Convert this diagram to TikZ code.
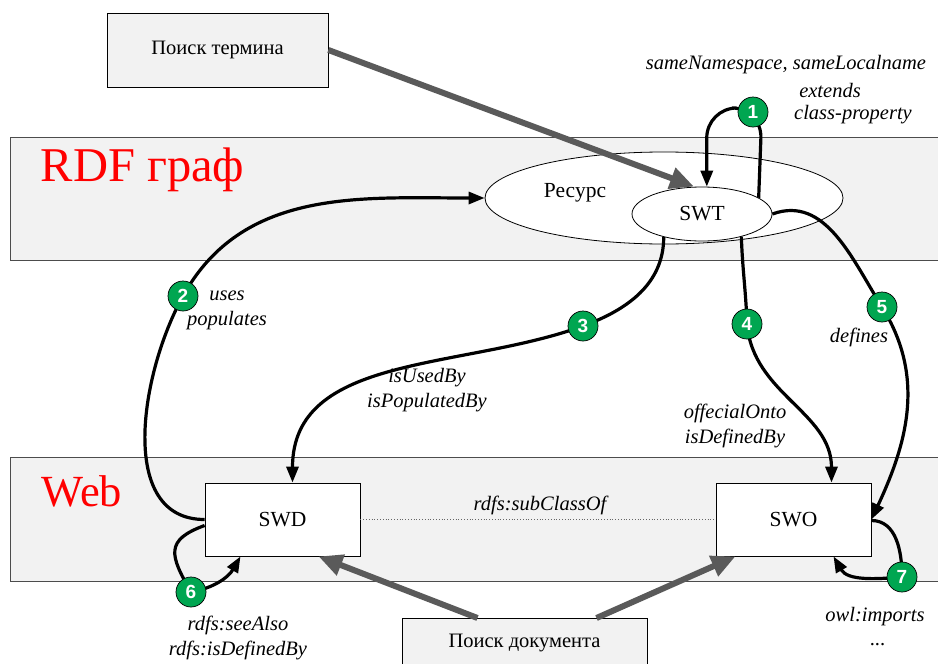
\documentclass[tikz,border=0pt]{standalone}
\usepackage{fontspec}
\setmainfont{Liberation Serif}
\newfontfamily\numfont{Liberation Sans}
\usetikzlibrary{arrows.meta,shapes.geometric}

\definecolor{bandgray}{HTML}{F2F2F2}
\definecolor{arrowgray}{HTML}{5A5A5A}
\definecolor{badge}{HTML}{00A651}

\begin{document}
\begin{tikzpicture}[x=1pt,y=-1pt,
  band/.style={draw=black!70, fill=bandgray, line width=0.9pt, rectangle,
    anchor=north west, inner sep=0pt},
  searchbox/.style={draw=black, fill=bandgray, line width=0.8pt, rectangle,
    inner sep=0pt, font=\fontsize{20.5}{22}\selectfont},
  docbox/.style={draw=black, fill=white, line width=0.8pt, rectangle,
    minimum width=155pt, minimum height=73pt, inner sep=0pt,
    font=\fontsize{21.5}{22}\selectfont},
  oval/.style={draw=black, fill=white, line width=0.8pt, ellipse, inner sep=0pt},
  bigtitle/.style={text=red, font=\fontsize{47}{50}\selectfont},
  plaintext/.style={font=\fontsize{21.5}{22}\selectfont},
  lbl/.style={font=\itshape\fontsize{20.5}{25}\selectfont, align=center},
  rel/.style={line width=3.2pt, -{Triangle[length=16pt,width=12pt]}},
  seek/.style={line width=6pt, draw=arrowgray, -{Triangle[length=24pt,width=21pt]}},
  num/.style={circle, draw=black, fill=badge, line width=0.7pt, minimum size=30pt,
    inner sep=0pt, text=white, font=\numfont\bfseries\fontsize{19}{19}\selectfont},
]
\useasboundingbox (0,0) rectangle (938,664);
\clip (0,0) rectangle (938,664);

% layers: the RDF graph and the Web
\node[band, minimum width=940pt, minimum height=123pt] (rdfband) at (10,137) {};
\node[band, minimum width=940pt, minimum height=124pt] (webband) at (10,457) {};
\node[bigtitle, font=\fontsize{48.5}{50}\selectfont] (rdftitle) at (142.5,170) {RDF граф};
\node[bigtitle, font=\fontsize{44.5}{50}\selectfont] (webtitle) at (82,491) {Web};

% search entry points
\node[searchbox, minimum width=221pt, minimum height=74pt] (termsearch) at (217.5,50) {Поиск термина};
\node[searchbox, minimum width=245pt, minimum height=70pt, anchor=north] (docsearch) at (524.5,618) {};
\node[font=\fontsize{20.5}{22}\selectfont] (doctext) at (524.5,643) {Поиск документа};

% resources
\node[oval, minimum width=358pt, minimum height=92pt] (res) at (664,198) {};
\node[plaintext] (restext) at (575,193) {Ресурс};
\node[oval, minimum width=140pt, minimum height=54pt, plaintext] (swt) at (702,214) {SWT};

% documents
\node[docbox] (swd) at (282.5,519.5) {SWD};
\node[docbox] (swo) at (793.5,519.5) {SWO};
\draw[dotted, black!60, line width=0.8pt] (swd.east) -- (swo.west);
\node[lbl] (subclass) at (540,505) {rdfs:subClassOf};

% search arrows
\draw[seek] (termsearch.east) -- ([xshift=-8pt]swt.north);
\draw[seek] ([xshift=-47pt]docsearch.north) -- ([xshift=36pt]swd.south);
\draw[seek] ([xshift=72pt]docsearch.north) -- ([xshift=-58pt]swo.south);

% badge positions
\coordinate (p1) at (753,112);
\coordinate (p2) at (183,296);
\coordinate (p3) at (583,326);
\coordinate (p4) at (747,324);
\coordinate (p5) at (882,307);
\coordinate (p6) at (191,592);
\coordinate (p7) at (902,577);

% relations
\draw[rel, rounded corners=30pt] (swt.16) -- (762,108) -- (706.7,108) -- (swt.80);
\draw[rel] (swd.west) to[out=180, in=-119] (p2) to[out=61, in=180] (res.west);
\draw[rel] (swt.-149) to[out=-90, in=20] (p3) to[out=200, in=90] ([xshift=10pt]swd.north);
\draw[rel] (swt.-30) to[out=-88, in=92] (p4) to[out=-85, in=90] ([xshift=38pt]swo.north);
\draw[rel] (swt.east) to[out=20, in=122] (p5) to[out=-58, in=65] (swo.east);
\draw[rel] ([yshift=-6pt]swd.west) to[out=200, in=120, looseness=1.6] (p6) to[out=10, in=-120] ([xshift=-42pt]swd.south);
\draw[rel] ([yshift=-1pt]swo.east) to[out=0, in=90] (p7) to[out=185, in=-60] ([xshift=40pt]swo.south);

% badges
\node[num] (n1) at (p1) {1};
\node[num] (n2) at (p2) {2};
\node[num] (n3) at (p3) {3};
\node[num] (n4) at (p4) {4};
\node[num] (n5) at (p5) {5};
\node[num] (n6) at (p6) {6};
\node[num] (n7) at (p7) {7};

% relation labels
\node[lbl] (l1a) at (786,65) {sameNamespace, sameLocalname};
\node[lbl] (l1b) at (830,90) {extends};
\node[lbl] (l1c) at (853,115) {class-property};
\node[lbl] (l2) at (227,310) {uses\\populates};
\node[lbl] (l3) at (427,390) {isUsedBy\\isPopulatedBy};
\node[lbl] (l4) at (735,426) {offecialOnto\\isDefinedBy};
\node[lbl] (l5) at (859,337) {defines};
\node[lbl] (l6) at (238,638) {rdfs:seeAlso\\rdfs:isDefinedBy};
\node[lbl] (l7a) at (875,617) {owl:imports};
\node[lbl] (l7b) at (878,645) {...};
\end{tikzpicture}
\end{document}
